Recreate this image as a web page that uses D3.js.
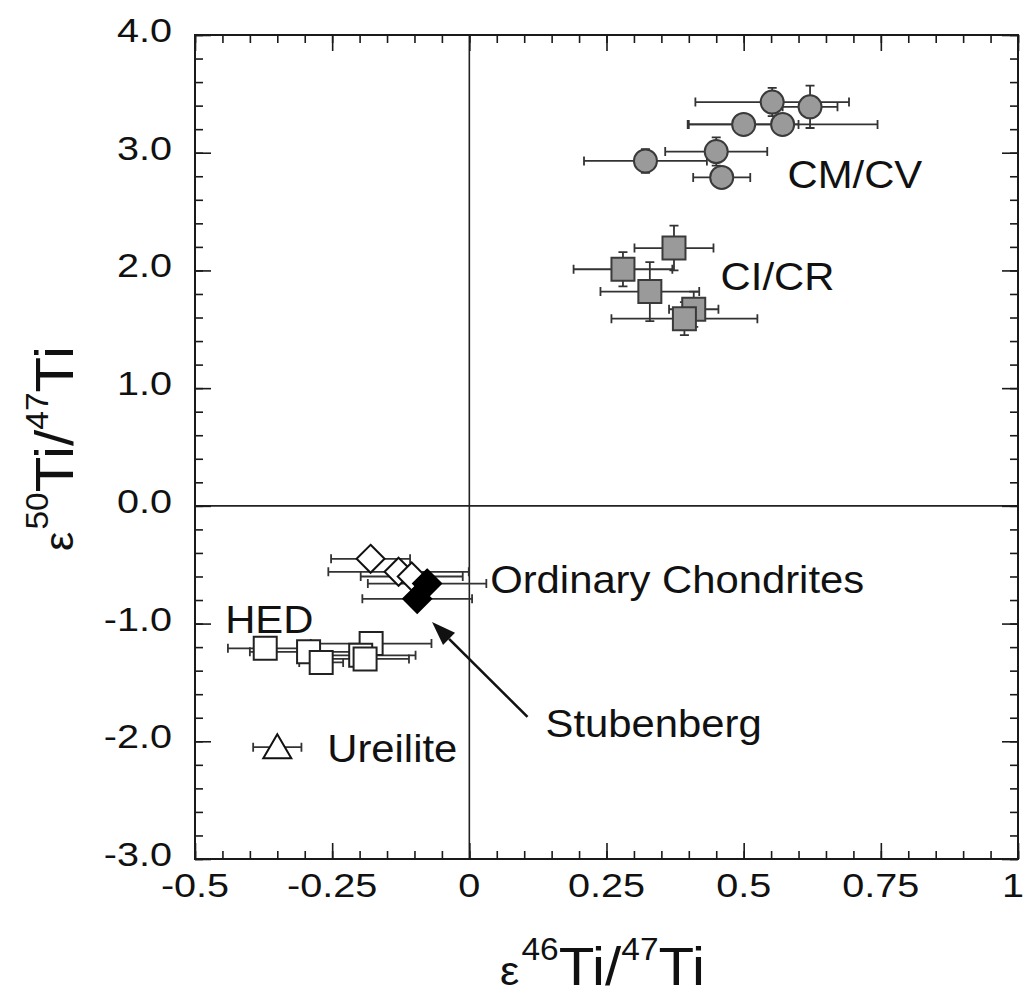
<!DOCTYPE html>
<html>
<head>
<meta charset="utf-8">
<script src="https://cdn.jsdelivr.net/npm/d3@7"></script>
<style>
  html, body { margin: 0; padding: 0; background: #fff; }
  svg { display: block; }
  text { font-family: "Liberation Sans", Arial, Helvetica, sans-serif; fill: #111; }
</style>
</head>
<body>
<svg id="chart" width="1025" height="1001"></svg>
<script>
// ---------- data ----------
// CM/CV carbonaceous chondrites (grey circles)
const cmcvX    = [0.552, 0.621, 0.500, 0.571, 0.321, 0.450, 0.460];
const cmcvY    = [3.43, 3.39, 3.24, 3.24, 2.93, 3.01, 2.79];
const cmcvXErr = [0.140, 0.050, 0.100, 0.173, 0.112, 0.093, 0.052];
const cmcvYErr = [0.12, 0.18, 0.08, 0.08, 0.10, 0.12, 0.08];

// CI/CR (grey squares)
const cicrX    = [0.373, 0.280, 0.329, 0.409, 0.392];
const cicrY    = [2.19, 2.01, 1.82, 1.67, 1.59];
const cicrXErr = [0.072, 0.090, 0.090, 0.045, 0.133];
const cicrYErr = [0.19, 0.145, 0.25, 0.15, 0.14];

// Ordinary chondrites (open diamonds)
const ocX    = [-0.180, -0.129, -0.105];
const ocY    = [-0.45, -0.56, -0.60];
const ocXErr = [0.072, 0.128, 0.093];
const ocYErr = [0.08, 0.06, 0.06];

// Stubenberg (filled diamonds)
const stubX    = [-0.077, -0.095];
const stubY    = [-0.66, -0.79];
const stubXErr = [0.108, 0.100];
const stubYErr = [0.06, 0.06];

// HED (open squares)
const hedX    = [-0.372, -0.293, -0.270, -0.179, -0.198, -0.190];
const hedY    = [-1.21, -1.24, -1.33, -1.17, -1.27, -1.30];
const hedXErr = [0.068, 0.107, 0.040, 0.110, 0.100, 0.080];
const hedYErr = [0.05, 0.05, 0.06, 0.05, 0.05, 0.08];

// Ureilite (open triangle)
const ureX    = [-0.350];
const ureY    = [-2.05];
const ureXErr = [0.044];
const ureYErr = [0.03];

// axes
const xDomain = [-0.5, 1];
const yDomain = [-3, 4];
const xTickValues = [-0.5, -0.25, 0, 0.25, 0.5, 0.75, 1];
const xTickLabels = ["-0.5", "-0.25", "0", "0.25", "0.5", "0.75", "1"];
const yTickValues = [4, 3, 2, 1, 0, -1, -2, -3];
const yTickLabels = ["4.0", "3.0", "2.0", "1.0", "0.0", "-1.0", "-2.0", "-3.0"];

// annotations (data coordinates, text baseline start)
const labelTexts = ["CM/CV", "CI/CR", "Ordinary Chondrites", "HED", "Ureilite", "Stubenberg"];
const labelX     = [0.580, 0.458, 0.038, -0.445, -0.259, 0.139];
const labelY     = [2.70, 1.835, -0.739, -1.079, -2.175, -1.963];
const arrowFrom  = [0.106, -1.793];
const arrowTo    = [-0.068, -0.986];

// ---------- layout ----------
const W = 1025;
const L = 195, R = 1018, T = 35, B = 859;
const svg = d3.select("#chart");
const x = d3.scaleLinear().domain(xDomain).range([L, R]);
const y = d3.scaleLinear().domain(yDomain).range([B, T]);

const ink = "#1a1a1a";

// zero lines
svg.append("line").attr("x1", x(0)).attr("x2", x(0)).attr("y1", T).attr("y2", B)
  .attr("stroke", "#222").attr("stroke-width", 1.6);
svg.append("line").attr("x1", L).attr("x2", R).attr("y1", y(0)).attr("y2", y(0))
  .attr("stroke", "#222").attr("stroke-width", 1.6);

// ticks via d3 axes (inward)
const xMinor = d3.range(-0.5, 1.0001, 0.05).map(v => +v.toFixed(2));
const yMinor = d3.range(-3, 4.0001, 0.2).map(v => +v.toFixed(1));
function styleAxis(g) {
  g.select(".domain").remove();
  g.selectAll(".tick line").attr("stroke", ink).attr("stroke-width", 1.6);
  g.selectAll(".tick text").remove();
}
svg.append("g").attr("transform", `translate(0,${B})`)
  .call(d3.axisBottom(x).tickValues(xMinor).tickSize(-8)).call(styleAxis);
svg.append("g").attr("transform", `translate(0,${B})`)
  .call(d3.axisBottom(x).tickValues(xTickValues).tickSize(-16)).call(styleAxis);
svg.append("g").attr("transform", `translate(0,${T})`)
  .call(d3.axisTop(x).tickValues(xMinor).tickSize(-8)).call(styleAxis);
svg.append("g").attr("transform", `translate(0,${T})`)
  .call(d3.axisTop(x).tickValues(xTickValues).tickSize(-16)).call(styleAxis);
svg.append("g").attr("transform", `translate(${L},0)`)
  .call(d3.axisLeft(y).tickValues(yMinor).tickSize(-8)).call(styleAxis);
svg.append("g").attr("transform", `translate(${L},0)`)
  .call(d3.axisLeft(y).tickValues(yTickValues).tickSize(-16)).call(styleAxis);
svg.append("g").attr("transform", `translate(${R},0)`)
  .call(d3.axisRight(y).tickValues(yMinor).tickSize(-8)).call(styleAxis);
svg.append("g").attr("transform", `translate(${R},0)`)
  .call(d3.axisRight(y).tickValues(yTickValues).tickSize(-16)).call(styleAxis);

// frame
svg.append("rect").attr("x", L).attr("y", T).attr("width", R - L).attr("height", B - T)
  .attr("fill", "none").attr("stroke", ink).attr("stroke-width", 2);

// tick labels (slightly wide type, like the original)
const tickFont = 33, tickStretch = 1.2;
xTickValues.forEach((v, i) => {
  const t = svg.append("text")
    .attr("text-anchor", "middle").attr("font-size", tickFont)
    .text(xTickLabels[i]);
  const half = t.node().getComputedTextLength() * tickStretch / 2;
  const cx = Math.min(x(v), W - 1 - half);
  t.attr("transform", `translate(${cx},${B + 38}) scale(${tickStretch},1)`);
});
yTickValues.forEach((v, i) => {
  svg.append("text")
    .attr("transform", `translate(${L - 23},${y(v) + 7}) scale(${tickStretch},1)`)
    .attr("text-anchor", "end").attr("font-size", tickFont)
    .text(yTickLabels[i]);
});

// axis titles
function axisTitle(g, sup1, sup2) {
  const t = g.append("text").attr("font-size", 54);
  t.append("tspan").attr("font-size", 40).text("ε");
  t.append("tspan").attr("font-size", 31).attr("dy", -25).attr("dx", 2).text(sup1);
  t.append("tspan").attr("dy", 25).text("Ti/");
  t.append("tspan").attr("font-size", 31).attr("dy", -25).attr("dx", 0).text(sup2);
  t.append("tspan").attr("dy", 25).text("Ti");
  return t;
}
const xt = svg.append("g").attr("transform", "translate(500,985) scale(1.08,1)");
axisTitle(xt, "46", "47");
const yt = svg.append("g").attr("transform", "translate(73,551) rotate(-90) scale(1.08,1)");
axisTitle(yt, "50", "47");

// ---------- data marks ----------
function zipSeries(xs, ys, xe, ye) {
  return xs.map((v, i) => ({ x: v, y: ys[i], xe: xe[i], ye: ye[i] }));
}
const series = [
  { data: zipSeries(cmcvX, cmcvY, cmcvXErr, cmcvYErr), shape: "circle", fill: "#9a9a9a", stroke: "#3a3a3a" },
  { data: zipSeries(cicrX, cicrY, cicrXErr, cicrYErr), shape: "square", fill: "#9a9a9a", stroke: "#3a3a3a" },
  { data: zipSeries(hedX, hedY, hedXErr, hedYErr), shape: "square", fill: "#ffffff", stroke: "#222" },
  { data: zipSeries(ureX, ureY, ureXErr, ureYErr), shape: "triangle", fill: "#ffffff", stroke: "#111" },
  { data: zipSeries(ocX, ocY, ocXErr, ocYErr), shape: "diamond", fill: "#ffffff", stroke: "#111" },
  { data: zipSeries(stubX, stubY, stubXErr, stubYErr), shape: "diamond", fill: "#000000", stroke: "#000" },
];

const capH = 4.5, capW = 4.5;
const errG = svg.append("g").attr("stroke", "#333").attr("stroke-width", 1.8).attr("fill", "none");
series.forEach(s => {
  s.data.forEach(d => {
    const cx = x(d.x), cy = y(d.y);
    const x0 = x(d.x - d.xe), x1 = x(d.x + d.xe);
    const y0 = y(d.y - d.ye), y1 = y(d.y + d.ye);
    errG.append("path").attr("d",
      `M${x0},${cy}H${x1}M${x0},${cy - capH}V${cy + capH}M${x1},${cy - capH}V${cy + capH}` +
      `M${cx},${y0}V${y1}M${cx - capW},${y0}H${cx + capW}M${cx - capW},${y1}H${cx + capW}`);
  });
});

const symbolPaths = {
  circle: d3.symbol().type(d3.symbolCircle).size(Math.PI * 11.5 * 11.5)(),
  square: d3.symbol().type(d3.symbolSquare).size(23 * 23)(),
  diamond: (() => { const h = 14; return `M0,${-h}L${h},0L0,${h}L${-h},0Z`; })(),
  triangle: "M0,-13L14,11L-14,11Z",
};
series.forEach(s => {
  svg.append("g").selectAll("path").data(s.data).join("path")
    .attr("transform", d => `translate(${x(d.x)},${y(d.y)})`)
    .attr("d", symbolPaths[s.shape])
    .attr("fill", s.fill).attr("stroke", s.stroke).attr("stroke-width", 2);
});

// ---------- annotations ----------
labelTexts.forEach((t, i) => {
  svg.append("text")
    .attr("transform", `translate(${x(labelX[i])},${y(labelY[i])}) scale(1.1,1)`)
    .attr("font-size", 38).text(t);
});

// arrow
const ax0 = x(arrowFrom[0]), ay0 = y(arrowFrom[1]);
const ax1 = x(arrowTo[0]), ay1 = y(arrowTo[1]);
const ang = Math.atan2(ay1 - ay0, ax1 - ax0);
const headL = 24, headW = 8.5;
const bx = ax1 - headL * Math.cos(ang), by = ay1 - headL * Math.sin(ang);
svg.append("line").attr("x1", ax0).attr("y1", ay0).attr("x2", bx).attr("y2", by)
  .attr("stroke", "#111").attr("stroke-width", 2.6);
svg.append("path")
  .attr("d", `M${ax1},${ay1}L${bx + headW * Math.sin(ang)},${by - headW * Math.cos(ang)}L${bx - headW * Math.sin(ang)},${by + headW * Math.cos(ang)}Z`)
  .attr("fill", "#111");
</script>
</body>
</html>
